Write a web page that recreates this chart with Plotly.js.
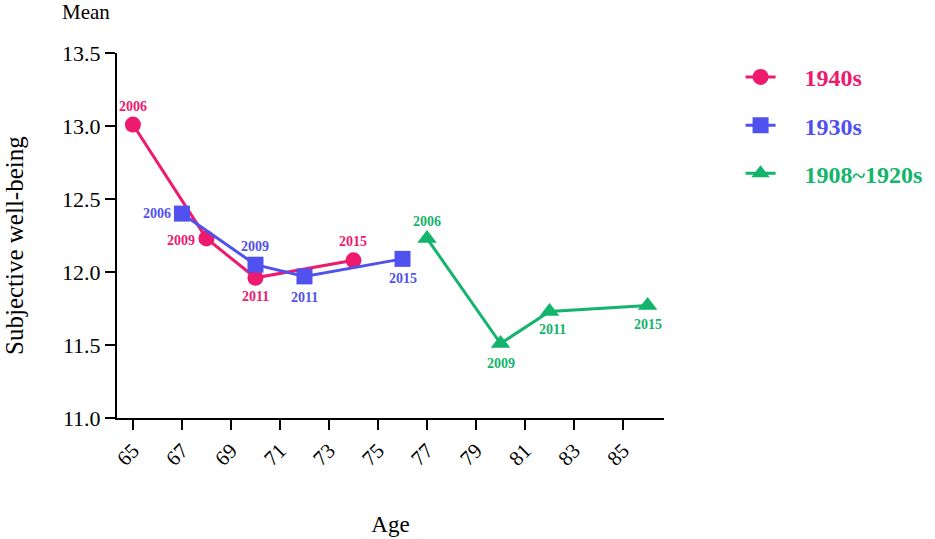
<!DOCTYPE html>
<html>
<head>
<meta charset="utf-8">
<script src="https://cdn.plot.ly/plotly-3.0.1.min.js"></script>
<style>
  html, body { margin: 0; padding: 0; background: #fff; }
  #chart { width: 935px; height: 539px; }
</style>
</head>
<body>
<div id="chart"></div>
<script>
// cohort series: age at wave vs mean subjective well-being
const years = ["2006", "2009", "2011", "2015"];

const ages1940 = [65, 68, 70, 74];
const swb1940 = [13.01, 12.23, 11.96, 12.08];

const ages1930 = [67, 70, 72, 76];
const swb1930 = [12.40, 12.05, 11.97, 12.09];

const agesOld = [77, 80, 82, 86];
const swbOld = [12.23, 11.51, 11.73, 11.77];

const xTicks = [65, 67, 69, 71, 73, 75, 77, 79, 81, 83, 85];
const yTicks = [11.0, 11.5, 12.0, 12.5, 13.0, 13.5];

const COLORS = { c1940: "#EE1A6E", c1930: "#5151F0", cOld: "#13B46B" };
const SERIF = "Liberation Serif, Times New Roman, serif";

/* label offsets (px) for each wave label, per series */
const shifts1940 = [[0, 18], [-25, -2], [0, -19], [0, 19]];
const shifts1930 = [[-25, 0], [0, 18], [0, -21], [0, -20]];
const shiftsOld = [[0, 17], [0, -20], [3, -18], [0, -19]];

function series(name, x, y, color, symbol, size, group) {
  return {
    type: "scatter",
    mode: "lines+markers",
    // nbsp padding pushes the text away from the legend symbol
    name: `\u00a0\u00a0\u00a0\u00a0<b><span style="color:${color}">${name}</span></b>`,
    legendgroup: group,
    x: x,
    y: y,
    line: { color: color, width: 3 },
    marker: { color: color, symbol: symbol, size: size },
    hoverinfo: "x+y",
  };
}

function waveLabels(x, y, color, shifts) {
  return x.map((xv, i) => ({
    x: xv,
    y: y[i],
    text: `<b>${years[i]}</b>`,
    showarrow: false,
    xshift: shifts[i][0],
    yshift: shifts[i][1],
    font: { family: SERIF, size: 14, color: color },
  }));
}

const traces = [
  series("1940s", ages1940, swb1940, COLORS.c1940, "circle", 16, "a"),
  series("1930s", ages1930, swb1930, COLORS.c1930, "square", 16, "b"),
  series("1908~1920s", agesOld, swbOld, COLORS.cOld, "triangle-up", 17, "c"),
];

const annotations = [
  ...waveLabels(ages1940, swb1940, COLORS.c1940, shifts1940),
  ...waveLabels(ages1930, swb1930, COLORS.c1930, shifts1930),
  ...waveLabels(agesOld, swbOld, COLORS.cOld, shiftsOld),
  {
    xref: "paper", yref: "paper",
    x: -0.0567, y: 1.112,
    xanchor: "center", yanchor: "middle",
    text: "Mean",
    showarrow: false,
    font: { family: SERIF, size: 21, color: "#000" },
  },
  {
    xref: "paper", yref: "paper",
    x: -0.1865, y: 0.474,
    xanchor: "center", yanchor: "middle",
    textangle: -90,
    text: "Subjective well-being",
    showarrow: false,
    font: { family: SERIF, size: 25, color: "#000" },
  },
];

const layout = {
  width: 935,
  height: 539,
  paper_bgcolor: "#fff",
  plot_bgcolor: "#fff",
  font: { family: SERIF, color: "#000" },
  margin: { l: 117, r: 271, t: 53, b: 121, autoexpand: false },
  showlegend: true,
  xaxis: {
    range: [64.35, 86.67],
    tickvals: xTicks,
    ticktext: xTicks.map(String),
    tickangle: -45,
    ticks: "outside",
    ticklen: 10,
    tickwidth: 2,
    tickcolor: "#000",
    showline: true,
    linecolor: "#000",
    linewidth: 2,
    showgrid: false,
    zeroline: false,
    tickfont: { family: SERIF, size: 21, color: "#000" },
    title: { text: "Age", font: { family: SERIF, size: 23, color: "#000" }, standoff: 46 },
  },
  yaxis: {
    range: [11.0, 13.5],
    tickvals: yTicks,
    ticktext: yTicks.map((v) => v.toFixed(1)),
    ticks: "outside",
    ticklen: 10,
    tickwidth: 2,
    tickcolor: "#000",
    showline: true,
    linecolor: "#000",
    linewidth: 2,
    showgrid: false,
    zeroline: false,
    tickfont: { family: SERIF, size: 22, color: "#000" },
  },
  legend: {
    x: 1.14,
    y: 0.995,
    xanchor: "left",
    yanchor: "top",
    traceorder: "grouped",
    tracegroupgap: 14,
    font: { family: SERIF, size: 24 },
    bgcolor: "rgba(0,0,0,0)",
  },
  annotations: annotations,
};

Plotly.newPlot("chart", traces, layout, { displayModeBar: false, staticPlot: true });
</script>
</body>
</html>
